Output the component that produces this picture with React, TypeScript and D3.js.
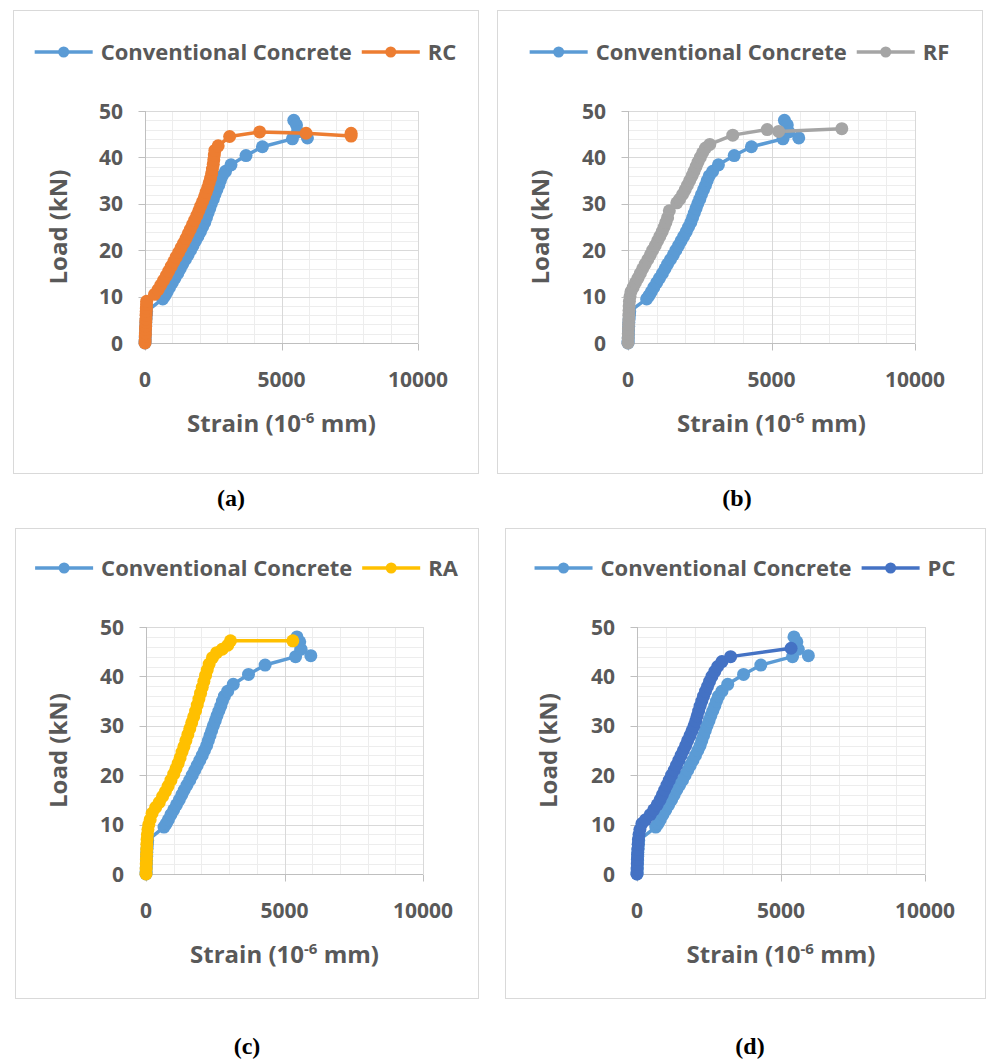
import React, { useEffect, useRef } from 'react';
import * as d3 from 'd3';

type Pt = [number, number]; // [strain (10^-6 mm), load (kN)]

const conventionalConcrete: Pt[] = [
  [0, 0], [5, 0.5], [10, 1.2], [15, 2], [20, 2.8], [25, 3.6], [30, 4.4], [40, 5.2], [50, 6], [60, 6.8],
  [650, 9.5], [730, 10.2], [810, 11], [900, 12], [1000, 13], [1100, 14], [1200, 15], [1290, 16],
  [1380, 17], [1480, 18], [1580, 19], [1670, 20], [1760, 21], [1850, 22], [1940, 23], [2030, 24],
  [2110, 25], [2190, 26], [2250, 27], [2310, 28], [2370, 29], [2430, 30], [2500, 31], [2560, 32],
  [2630, 33], [2700, 34], [2760, 35], [2830, 36], [2950, 37], [3150, 38.4], [3700, 40.4], [4300, 42.3],
  [5400, 44], [5450, 48], [5550, 47], [5600, 45.5], [5950, 44.2],
];

const rcSeries: Pt[] = [
  [0, 0], [5, 0.7], [10, 1.5], [15, 2.2], [20, 3], [25, 3.7], [30, 4.5], [35, 5.2], [40, 6], [45, 6.8],
  [50, 7.5], [55, 8.3], [60, 9], [350, 10.5], [480, 11.5], [580, 12.5], [680, 13.5], [780, 14.5],
  [870, 15.5], [960, 16.5], [1050, 17.5], [1140, 18.5], [1230, 19.5], [1320, 20.5], [1410, 21.5],
  [1500, 22.5], [1580, 23.5], [1660, 24.5], [1740, 25.5], [1820, 26.5], [1900, 27.5], [1970, 28.5],
  [2040, 29.5], [2110, 30.5], [2180, 31.5], [2240, 32.5], [2300, 33.5], [2350, 34.5], [2400, 35.5],
  [2440, 36.5], [2470, 37.5], [2500, 38.5], [2520, 39.5], [2540, 40.5], [2560, 41.5], [2680, 42.5],
  [3100, 44.5], [4200, 45.5], [5900, 45.2], [7550, 44.6], [7550, 45.2],
];

const rfSeries: Pt[] = [
  [0, 0], [5, 1], [10, 2], [15, 3], [20, 4], [25, 5], [30, 6], [35, 7], [40, 8], [50, 9], [70, 10],
  [100, 11], [180, 12], [260, 13], [350, 14], [430, 15], [510, 16], [600, 17], [690, 18], [780, 19],
  [860, 20], [950, 21], [1030, 22], [1110, 23], [1190, 24], [1260, 25], [1320, 26], [1380, 27],
  [1440, 28.5], [1700, 30.2], [1800, 31], [1900, 32], [1990, 33], [2070, 34], [2150, 35], [2230, 36],
  [2300, 37], [2370, 38], [2440, 39], [2520, 40], [2600, 41], [2700, 42], [2850, 42.8], [3650, 44.8],
  [4850, 46], [5250, 45.6], [7450, 46.2],
];

const raSeries: Pt[] = [
  [0, 0], [5, 1], [10, 2], [15, 3], [20, 4], [25, 5], [30, 6], [40, 7], [50, 8], [70, 9], [100, 10],
  [150, 11], [220, 12.3], [350, 13.5], [480, 14.5], [600, 15.7], [700, 16.7], [800, 17.8], [900, 19],
  [1000, 20.2], [1080, 21.3], [1160, 22.4], [1230, 23.5], [1300, 24.7], [1370, 25.8], [1440, 27],
  [1510, 28.2], [1580, 29.4], [1650, 30.6], [1720, 31.8], [1790, 33], [1850, 34.2], [1910, 35.4],
  [1970, 36.6], [2030, 37.8], [2090, 39], [2150, 40.2], [2210, 41.3], [2280, 42.5], [2400, 43.8],
  [2550, 44.8], [2750, 45.5], [2950, 46.3], [3050, 47.2], [5300, 47.2],
];

const pcSeries: Pt[] = [
  [0, 0], [5, 1], [10, 2], [15, 3], [20, 4], [30, 5], [40, 6], [50, 7], [70, 8], [100, 9], [170, 10.2],
  [300, 11], [460, 12], [580, 13], [700, 14], [800, 15], [880, 16], [960, 17], [1040, 18], [1120, 19],
  [1200, 20], [1290, 21], [1370, 22], [1450, 23], [1530, 24], [1610, 25], [1690, 26], [1760, 27],
  [1840, 28], [1910, 29], [1980, 30], [2040, 31], [2090, 32], [2140, 33], [2190, 34], [2250, 35],
  [2310, 36], [2380, 37], [2450, 38], [2520, 39], [2600, 40], [2700, 41], [2800, 42], [2950, 43],
  [3250, 44], [5350, 45.7],
];

const loadTicks = [0, 10, 20, 30, 40, 50];
const strainTicks = [0, 5000, 10000];
const referenceName = 'Conventional Concrete';
const mixNames = ['RC', 'RF', 'RA', 'PC'];
const panelLetters = ['(a)', '(b)', '(c)', '(d)'];
const mixData = [rcSeries, rfSeries, raSeries, pcSeries];

const COLORS = {
  reference: '#5B9BD5',
  mixes: ['#ED7D31', '#A5A5A5', '#FFC000', '#4472C4'],
};

const FONT = "'Open Sans', 'DejaVu Sans', sans-serif";
const TEXT = '#595959';

// frame, plot area and caption placement for each of the four sub-charts
const layouts = [
  { box: [13, 10, 465, 463], plot: [145, 418, 111, 343], legendY: 52, yTitleX: 58, caption: [231, 497] },
  { box: [497, 10, 485, 463], plot: [628, 915, 111, 343], legendY: 52, yTitleX: 540, caption: [737, 497] },
  { box: [15, 528, 463, 470], plot: [146, 423, 627, 874], legendY: 568, yTitleX: 58, caption: [247, 1045] },
  { box: [505, 528, 480, 470], plot: [637, 925, 627, 874], legendY: 568, yTitleX: 548, caption: [750, 1045] },
];

export default function App() {
  const ref = useRef<SVGSVGElement>(null);

  useEffect(() => {
    const svg = d3.select(ref.current);
    svg.selectAll('*').remove();

    layouts.forEach((lay, i) => {
      const g = svg.append('g');
      const [bx, by, bw, bh] = lay.box;
      const [l, r, t, b] = lay.plot;
      const x = d3.scaleLinear().domain([0, 10000]).range([l, r]);
      const y = d3.scaleLinear().domain([0, 50]).range([b, t]);

      g.append('rect')
        .attr('x', bx + 0.5).attr('y', by + 0.5).attr('width', bw).attr('height', bh)
        .attr('fill', '#fff').attr('stroke', '#d9d9d9');

      // minor gridlines
      const minorX = d3.range(1000, 10000, 1000).filter((v) => v % 5000 !== 0);
      const minorY = d3.range(2, 50, 2).filter((v) => v % 10 !== 0);
      g.append('g').selectAll('line').data(minorX).join('line')
        .attr('x1', (d) => Math.round(x(d)) + 0.5).attr('x2', (d) => Math.round(x(d)) + 0.5)
        .attr('y1', t).attr('y2', b).attr('stroke', '#ededed');
      g.append('g').selectAll('line').data(minorY).join('line')
        .attr('y1', (d) => Math.round(y(d)) + 0.5).attr('y2', (d) => Math.round(y(d)) + 0.5)
        .attr('x1', l).attr('x2', r).attr('stroke', '#ededed');

      // major gridlines
      g.append('g').selectAll('line').data(strainTicks.slice(1)).join('line')
        .attr('x1', (d) => Math.round(x(d)) + 0.5).attr('x2', (d) => Math.round(x(d)) + 0.5)
        .attr('y1', t).attr('y2', b).attr('stroke', '#d9d9d9');
      g.append('g').selectAll('line').data(loadTicks.slice(1)).join('line')
        .attr('y1', (d) => Math.round(y(d)) + 0.5).attr('y2', (d) => Math.round(y(d)) + 0.5)
        .attr('x1', l).attr('x2', r).attr('stroke', '#d9d9d9');

      // axes with outside tick marks
      const x0 = Math.round(x(0)) + 0.5;
      const y0 = Math.round(y(0)) + 0.5;
      g.append('line').attr('x1', l).attr('x2', r).attr('y1', y0).attr('y2', y0).attr('stroke', '#bfbfbf');
      g.append('line').attr('x1', x0).attr('x2', x0).attr('y1', t).attr('y2', b).attr('stroke', '#bfbfbf');
      g.append('g').selectAll('line').data(strainTicks).join('line')
        .attr('x1', (d) => Math.round(x(d)) + 0.5).attr('x2', (d) => Math.round(x(d)) + 0.5)
        .attr('y1', y0).attr('y2', y0 + 7).attr('stroke', '#bfbfbf');
      g.append('g').selectAll('line').data(loadTicks).join('line')
        .attr('y1', (d) => Math.round(y(d)) + 0.5).attr('y2', (d) => Math.round(y(d)) + 0.5)
        .attr('x1', x0 - 7).attr('x2', x0).attr('stroke', '#bfbfbf');

      const txt = (sel: any) => sel.attr('font-family', FONT).attr('font-weight', 700).attr('fill', TEXT);

      g.append('g').selectAll('text').data(loadTicks).join('text')
        .attr('x', l - 22).attr('y', (d) => y(d)).attr('dy', '0.36em')
        .attr('text-anchor', 'end').attr('font-size', 21).text((d) => String(d)).call(txt);
      g.append('g').selectAll('text').data(strainTicks).join('text')
        .attr('x', (d) => x(d)).attr('y', b + 36).attr('dy', '0.36em')
        .attr('text-anchor', 'middle').attr('font-size', 21).text((d) => String(d)).call(txt);

      // axis titles
      g.append('text')
        .attr('transform', `translate(${lay.yTitleX},${(t + b) / 2}) rotate(-90)`)
        .attr('text-anchor', 'middle').attr('dy', '0.36em').attr('font-size', 24)
        .text('Load (kN)').call(txt);
      const st = g.append('text')
        .attr('x', (l + r) / 2).attr('y', b + 80).attr('dy', '0.36em')
        .attr('text-anchor', 'middle').attr('font-size', 24).call(txt);
      st.append('tspan').text('Strain (10');
      st.append('tspan').attr('dy', -9).attr('font-size', 15).text('-6');
      st.append('tspan').attr('dy', 9).text(' mm)');

      // series
      const line = d3.line<Pt>().x((d) => x(d[0])).y((d) => y(d[1]));
      const series = [
        { name: referenceName, data: conventionalConcrete, color: COLORS.reference },
        { name: mixNames[i], data: mixData[i], color: COLORS.mixes[i] },
      ];
      series.forEach((s) => {
        const sg = g.append('g');
        sg.append('path').attr('d', line(s.data)).attr('fill', 'none')
          .attr('stroke', s.color).attr('stroke-width', 3.5).attr('stroke-linejoin', 'round');
        sg.selectAll('circle').data(s.data).join('circle')
          .attr('cx', (d) => x(d[0])).attr('cy', (d) => y(d[1])).attr('r', 6.5).attr('fill', s.color);
      });

      // legend
      const lg = g.append('g');
      const lineLen = 58;
      let cursor = 0;
      series.forEach((s, k) => {
        const item = lg.append('g').attr('transform', `translate(${cursor},0)`);
        item.append('line').attr('x1', 0).attr('x2', lineLen).attr('y1', 0).attr('y2', 0)
          .attr('stroke', s.color).attr('stroke-width', 3.5);
        item.append('circle').attr('cx', lineLen / 2).attr('cy', 0).attr('r', 5.5).attr('fill', s.color);
        const tx = item.append('text').attr('x', lineLen + 8).attr('y', 0).attr('dy', '0.36em')
          .attr('font-size', 22).text(s.name).call(txt);
        const w = (tx.node() as SVGTextElement).getComputedTextLength();
        cursor += lineLen + 8 + w + (k === 0 ? 10 : 0);
      });
      lg.attr('transform', `translate(${bx + bw / 2 - cursor / 2},${lay.legendY})`);

      // caption
      g.append('text')
        .attr('x', lay.caption[0]).attr('y', lay.caption[1]).attr('dy', '0.36em')
        .attr('text-anchor', 'middle').attr('font-family', "'Liberation Serif', 'Times New Roman', serif")
        .attr('font-weight', 700).attr('font-size', 24).attr('fill', '#000')
        .text(panelLetters[i]);
    });
  }, []);

  return (
    <div style={{ position: 'absolute', left: 0, top: 0 }}>
      <svg ref={ref} width={987} height={1062} style={{ display: 'block', background: '#fff' }} />
    </div>
  );
}
